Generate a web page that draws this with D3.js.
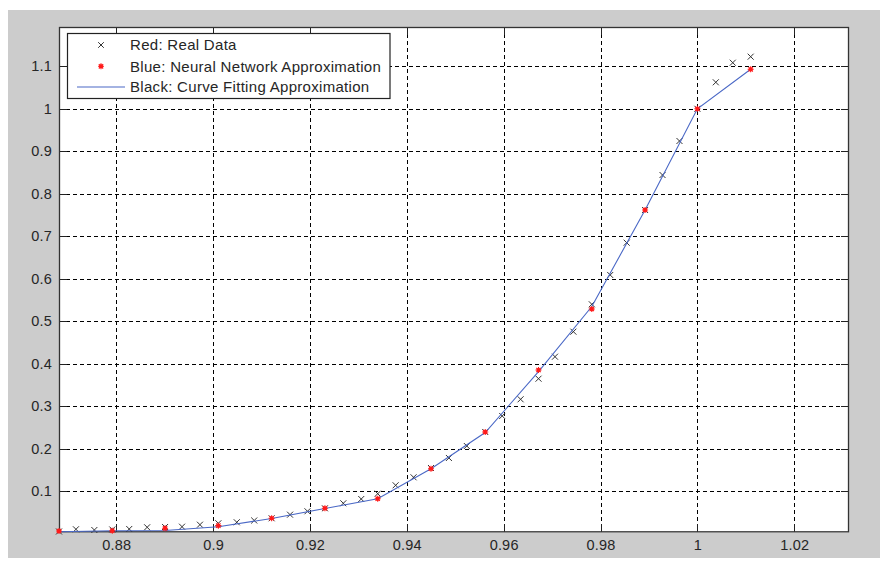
<!DOCTYPE html>
<html>
<head>
<meta charset="utf-8">
<script src="https://cdn.jsdelivr.net/npm/d3@7"></script>
<style>
  html, body { margin: 0; padding: 0; background: #ffffff; }
  svg { display: block; }
  text { font-family: "Liberation Sans", Arial, sans-serif; }
</style>
</head>
<body>
<svg id="chart" width="880" height="561"></svg>
<script>
// ---- data ----
const realX = [0.8682, 0.8717, 0.8755, 0.8792, 0.8827, 0.8864, 0.8901, 0.8936, 0.8973, 0.9011,
               0.9049, 0.9085, 0.9121, 0.9159, 0.9195, 0.9231, 0.9269, 0.9306, 0.9340, 0.9377,
               0.9414, 0.9450, 0.9487, 0.9524, 0.9562, 0.9597, 0.9635, 0.9672, 0.9706, 0.9744,
               0.9782, 0.9820, 0.9854, 0.9892, 0.9928, 0.9963, 1.0000, 1.0038, 1.0073, 1.0110];
const realY = [0.0047, 0.0099, 0.0082, 0.0094, 0.0106, 0.0146, 0.0153, 0.0160, 0.0207, 0.0240,
               0.0264, 0.0306, 0.0358, 0.0443, 0.0523, 0.0593, 0.0711, 0.0812, 0.0937, 0.1135,
               0.1323, 0.1542, 0.1778, 0.2060, 0.2390, 0.2767, 0.3160, 0.3645, 0.4163, 0.4752,
               0.5397, 0.6087, 0.6847, 0.7617, 0.8441, 0.9242, 1.0000, 1.0624, 1.1085, 1.1227];
const nnX = [0.8682, 0.8792, 0.8901, 0.9011, 0.9121, 0.9231, 0.9340, 0.9450, 0.9562, 0.9672,
             0.9782, 0.9892, 1.0000, 1.0110];
const nnY = [0.0059, 0.0066, 0.0122, 0.0184, 0.0358, 0.0593, 0.0819, 0.1526, 0.2390, 0.3850,
             0.5286, 0.7617, 1.0000, 1.0930];
const fitX = [0.8682, 0.8792, 0.8901, 0.9011, 0.9121, 0.9231, 0.9340, 0.9450, 0.9562, 0.9672,
              0.9782, 0.9892, 1.0000, 1.0110];
const fitY = [0.0042, 0.0066, 0.0071, 0.0158, 0.0353, 0.0589, 0.0819, 0.1526, 0.2378, 0.3810,
              0.5345, 0.7617, 1.0000, 1.0930];
const xTicks = [0.88, 0.90, 0.92, 0.94, 0.96, 0.98, 1.00, 1.02];
const xTickLabels = ["0.88", "0.9", "0.92", "0.94", "0.96", "0.98", "1", "1.02"];
const yTicks = [0.1, 0.2, 0.3, 0.4, 0.5, 0.6, 0.7, 0.8, 0.9, 1.0, 1.1];
const yTickLabels = ["0.1", "0.2", "0.3", "0.4", "0.5", "0.6", "0.7", "0.8", "0.9", "1", "1.1"];
const legendLabels = ["Red: Real Data", "Blue: Neural Network Approximation", "Black: Curve Fitting Approximation"];

// ---- layout ----
const svg = d3.select("#chart");
const L = 59, T = 27, R = 849, B = 532.3;
const x = d3.scaleLinear().domain([0.8682, 1.0313]).range([L, R]);
const y = d3.scaleLinear().domain([0.0028, 1.1926]).range([B, T]);

// figure background
svg.append("rect").attr("x", 8).attr("y", 10).attr("width", 872).attr("height", 548).attr("fill", "#cccccc");
// axes background
svg.append("rect").attr("x", L).attr("y", T).attr("width", R - L).attr("height", B - T).attr("fill", "#ffffff");

// grid
const grid = svg.append("g").attr("stroke", "#000").attr("stroke-width", 1).attr("stroke-dasharray", "4,3").attr("shape-rendering", "crispEdges");
xTicks.forEach(t => grid.append("line").attr("x1", Math.round(x(t)) + 0.5).attr("x2", Math.round(x(t)) + 0.5).attr("y1", T).attr("y2", B));
yTicks.forEach(t => grid.append("line").attr("y1", Math.round(y(t)) + 0.5).attr("y2", Math.round(y(t)) + 0.5).attr("x1", L).attr("x2", R));

// axes with d3 axis generators (inward ticks)
const tl = 8;
const fmtX = (d, i) => xTickLabels[i];
const fmtY = (d, i) => yTickLabels[i];
const axB = svg.append("g").attr("transform", `translate(0,${B})`)
  .call(d3.axisBottom(x).tickValues(xTicks).tickFormat(fmtX).tickSizeInner(-tl).tickSizeOuter(0).tickPadding(7));
const axT = svg.append("g").attr("transform", `translate(0,${T})`)
  .call(d3.axisTop(x).tickValues(xTicks).tickFormat("").tickSizeInner(-tl).tickSizeOuter(0));
const axL = svg.append("g").attr("transform", `translate(${L},0)`)
  .call(d3.axisLeft(y).tickValues(yTicks).tickFormat(fmtY).tickSizeInner(-tl).tickSizeOuter(0).tickPadding(7));
const axR = svg.append("g").attr("transform", `translate(${R},0)`)
  .call(d3.axisRight(y).tickValues(yTicks).tickFormat("").tickSizeInner(-tl).tickSizeOuter(0));
[axB, axT, axL, axR].forEach(g => {
  g.select(".domain").remove();
  g.selectAll(".tick line").attr("stroke", "#222").attr("shape-rendering", "crispEdges");
  g.selectAll("text").attr("font-size", 14.5).attr("fill", "#262626").attr("letter-spacing", 0.2)
    .attr("font-family", "'Liberation Sans', Arial, sans-serif");
});
// box
svg.append("rect").attr("x", L + 0.5).attr("y", T + 0.5).attr("width", R - L - 1).attr("height", B - T - 1)
  .attr("fill", "none").attr("stroke", "#333").attr("stroke-width", 1.3);

// plot area
const plot = svg.append("g");
const xMark = (g, cx, cy, s) => {
  g.append("path").attr("d", `M${cx - s},${cy - s}L${cx + s},${cy + s}M${cx - s},${cy + s}L${cx + s},${cy - s}`)
    .attr("stroke", "#333").attr("stroke-width", 1).attr("fill", "none");
};
const star = (g, cx, cy) => {
  g.append("circle").attr("cx", cx).attr("cy", cy).attr("r", 2).attr("fill", "#ff1a1a");
  g.append("path").attr("d", `M${cx - 3},${cy}L${cx + 3},${cy}M${cx},${cy - 3}L${cx},${cy + 3}M${cx - 2.2},${cy - 2.2}L${cx + 2.2},${cy + 2.2}M${cx - 2.2},${cy + 2.2}L${cx + 2.2},${cy - 2.2}`)
    .attr("stroke", "#ff1a1a").attr("stroke-width", 1.1).attr("fill", "none");
};
realX.forEach((v, i) => xMark(plot, x(v), y(realY[i]), 3));
const line = d3.line().x(d => x(d[0])).y(d => y(d[1]));
plot.append("path").datum(fitX.map((v, i) => [v, fitY[i]])).attr("d", line)
  .attr("fill", "none").attr("stroke", "#4a68c6").attr("stroke-width", 1.1);
nnX.forEach((v, i) => star(plot, x(v), y(nnY[i])));

// legend
const lg = svg.append("g");
lg.append("rect").attr("x", 67.5).attr("y", 33.5).attr("width", 322.5).attr("height", 65)
  .attr("fill", "#fff").attr("stroke", "#222").attr("stroke-width", 1.2);
const rowY = [45, 66.3, 87];
xMark(lg, 101, rowY[0], 2.8);
star(lg, 101, rowY[1]);
lg.append("line").attr("x1", 77).attr("x2", 125).attr("y1", rowY[2]).attr("y2", rowY[2])
  .attr("stroke", "#4a68c6").attr("stroke-width", 1.1);
legendLabels.forEach((t, i) => {
  lg.append("text").attr("x", 130).attr("y", rowY[i]).attr("dy", "0.35em")
    .attr("font-size", 15).attr("letter-spacing", 0.3).attr("fill", "#262626").text(t);
});
</script>
</body>
</html>
